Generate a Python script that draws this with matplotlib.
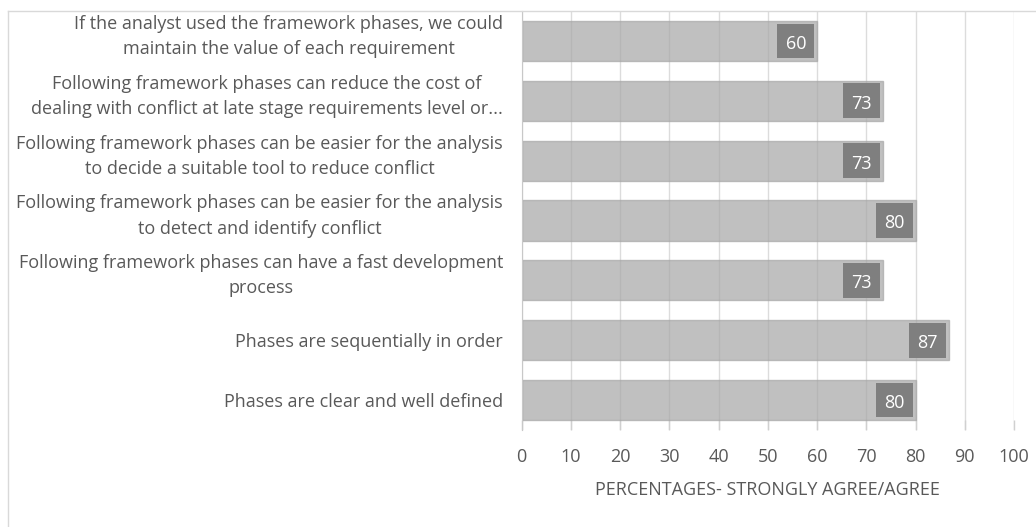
import matplotlib.pyplot as plt
from matplotlib.lines import Line2D
from matplotlib.path import Path
from matplotlib.transforms import offset_copy

# データ
categories = [
    "If the analyst used the framework phases, we could\nmaintain the value of each requirement",
    "Following framework phases can reduce the cost of\ndealing with conflict at late stage requirements level or...",
    "Following framework phases can be easier for the analysis\nto decide a suitable tool to reduce conflict",
    "Following framework phases can be easier for the analysis\nto detect and identify conflict",
    "Following framework phases can have a fast development\nprocess",
    "Phases are sequentially in order",
    "Phases are clear and well defined",
]
values = [60.0, 73.3, 73.3, 80.0, 73.3, 86.7, 80.0]
x_ticks = [0, 10, 20, 30, 40, 50, 60, 70, 80, 90, 100]
x_label = "PERCENTAGES- STRONGLY AGREE/AGREE"

text_color = "#595959"
box_color = "#7f7f7f"
fs = 13
plt.rcParams['font.family'] = ['Open Sans', 'DejaVu Sans']


def label_box(x0, y0, width, height, mutation_size):
    """ 数字が箱の中央に来るように少し上へずらした四角 """
    pad = 0.46 * mutation_size
    shift = 3
    xa, xb = x0 - pad, x0 + width + pad
    ya, yb = y0 - pad + shift, y0 + height + pad + shift
    return Path([(xa, ya), (xb, ya), (xb, yb), (xa, yb), (xa, ya)], closed=True)


W, H = 1036, 527
fig = plt.figure(figsize=(W / 100, H / 100), dpi=100)

# プロット領域（ピクセル位置から）
left, right, top, bottom = 521.7, 1014, 11, 430
ax = fig.add_axes([left / W, 1 - bottom / H, (right - left) / W, (bottom - top) / H])

y = list(range(len(categories)))
ax.barh(y, values, height=0.67, color="#a6a6a6", alpha=0.7,
        edgecolor="#a6a6a6", linewidth=1.0, zorder=3)

for i, v in enumerate(values):
    ax.annotate("{:.0f}".format(v), xy=(v, i), xytext=(-11, -3),
                textcoords="offset pixels", ha="right", va="center",
                fontsize=fs, color="white", zorder=5,
                bbox=dict(boxstyle=label_box, fc=box_color, ec="none"))

ax.set_xlim(0, 100)
ax.set_ylim(len(categories) - 0.5, -0.5)
ax.set_xticks(x_ticks)
ax.set_yticks(y)
ax.set_yticklabels(categories, fontsize=fs, color=text_color,
                   multialignment="center", linespacing=1.5)
ax.tick_params(axis="y", length=0, pad=13.5)
ax.tick_params(axis="x", direction="in", length=7, width=1, color="#d0d0d0",
               labelsize=fs, labelcolor=text_color, pad=13)

# 2行ラベルは少し上に寄っている
for lab in ax.get_yticklabels():
    if "\n" in lab.get_text():
        lab.set_transform(offset_copy(lab.get_transform(), fig=fig, x=0, y=10, units="dots"))

ax.grid(axis="x", color="#dcdcdc", linewidth=1, zorder=1)
ax.set_axisbelow(True)
for s in ["top", "right", "bottom"]:
    ax.spines[s].set_visible(False)
ax.spines["left"].set_color("#c8c8c8")
ax.spines["left"].set_zorder(4)

ax.set_xlabel(x_label, fontsize=fs, color=text_color, labelpad=11)

# 外枠（上と左のみ見える）
fig.add_artist(Line2D([8.3 / W, 1], [1 - 11 / H, 1 - 11 / H], color="#d9d9d9", lw=1))
fig.add_artist(Line2D([8.3 / W, 8.3 / W], [0, 1 - 11 / H], color="#d9d9d9", lw=1))

fig.savefig("out.png", dpi=100)
